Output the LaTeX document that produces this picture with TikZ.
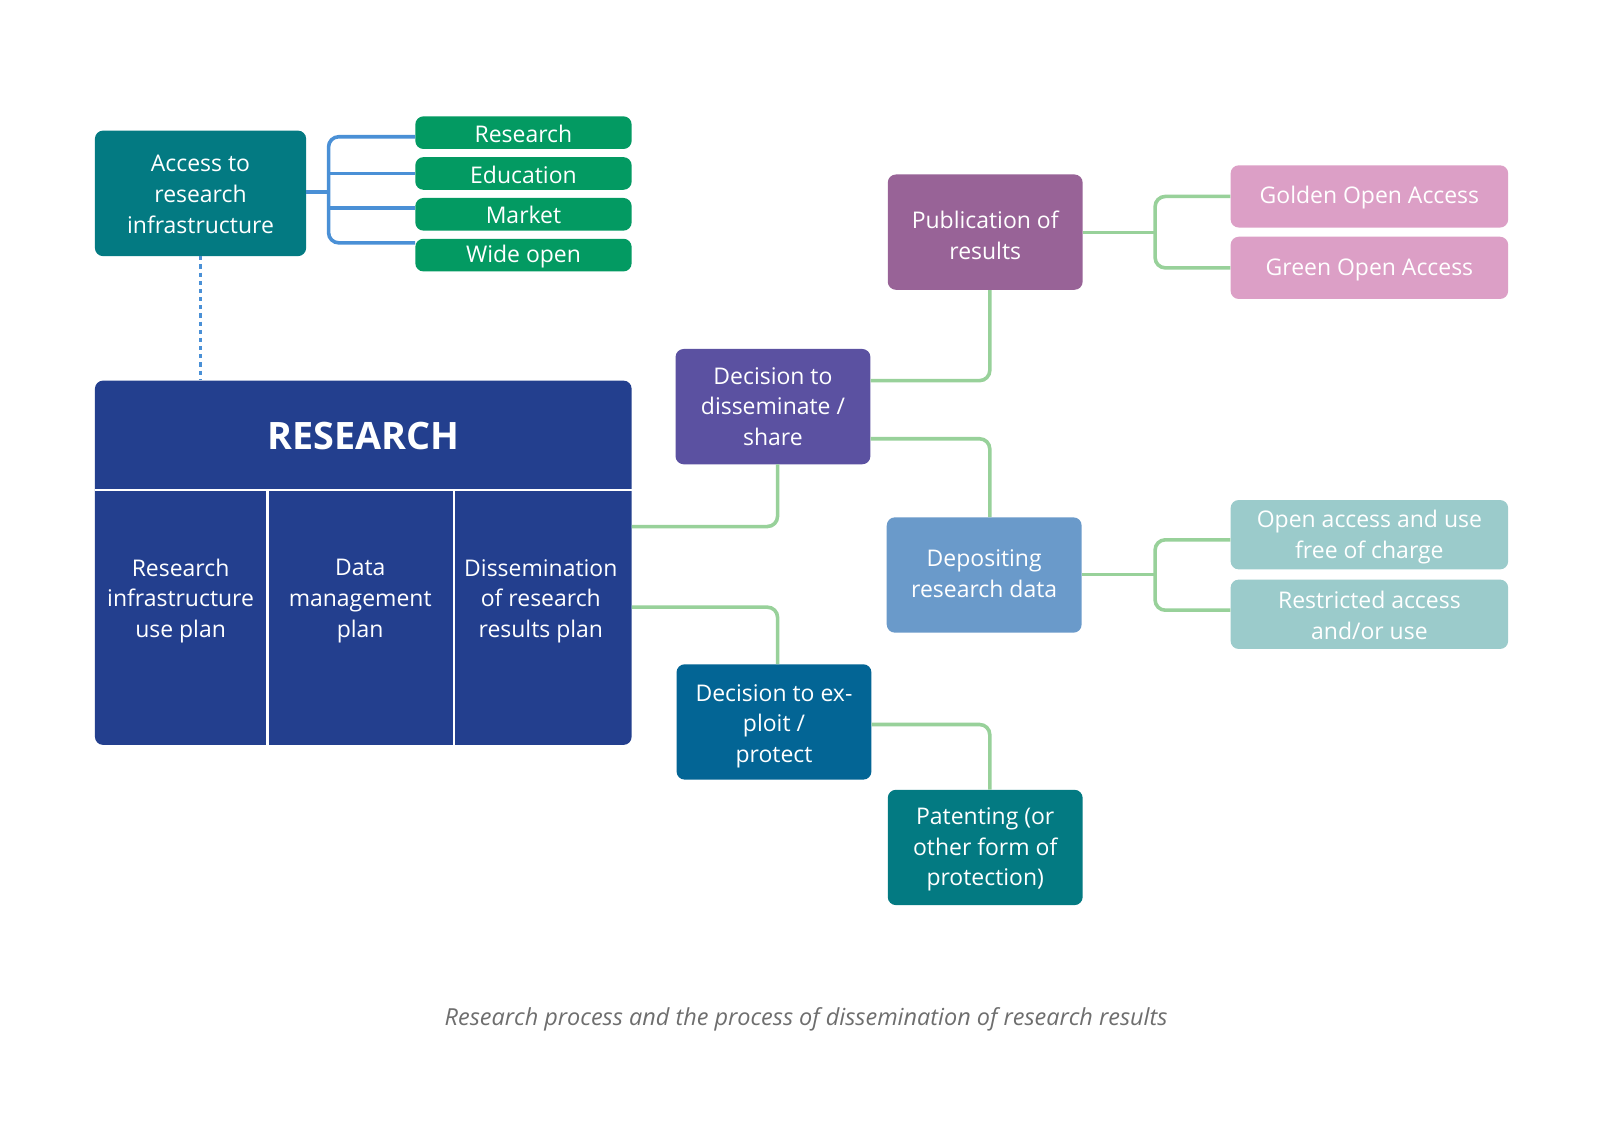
\documentclass[tikz,border=0pt]{standalone}
\usepackage{fontspec}
\setmainfont{Open Sans}
\usetikzlibrary{calc}
\definecolor{cteal}{HTML}{037A82}
\definecolor{cgreen}{HTML}{039A62}
\definecolor{cblueline}{HTML}{4A90D6}
\definecolor{cresearch}{HTML}{233F8E}
\definecolor{cdiss}{HTML}{5B51A1}
\definecolor{cpub}{HTML}{986397}
\definecolor{cdep}{HTML}{6A9ACA}
\definecolor{cpink}{HTML}{DC9FC6}
\definecolor{clteal}{HTML}{9BCBCB}
\definecolor{cexpl}{HTML}{036595}
\definecolor{cgline}{HTML}{98D19A}
\definecolor{ccap}{HTML}{6E6E6E}
\tikzset{
  box/.style={rectangle, rounded corners=8pt, inner sep=0pt},
  txt/.style={text=white, align=center, inner sep=0pt, font=\fontsize{22.5}{30}\selectfont},
  gline/.style={draw=cgline, line width=3.5pt, rounded corners=10pt},
  bline/.style={draw=cblueline, line width=3.5pt, rounded corners=10pt},
  divline/.style={draw=white, line width=2.5pt},
}
\begin{document}
\begin{tikzpicture}[x=1pt,y=-1pt]
\useasboundingbox[fill=white] (0,0) rectangle (1568,1108);

% Access + green boxes
\node[box, fill=cteal, minimum width=207pt, minimum height=123pt] (access) at (196.5,189.5) {};
\node[txt] (accessT) at ([yshift=-1pt]access.center) {Access to\\research\\infrastructure};
\node[box, fill=cgreen, minimum width=212pt, minimum height=32pt] (g1) at (513,130) {};
\node[box, fill=cgreen, minimum width=212pt, minimum height=32pt] (g2) at (513,170) {};
\node[box, fill=cgreen, minimum width=212pt, minimum height=32pt] (g3) at (513,210) {};
\node[box, fill=cgreen, minimum width=212pt, minimum height=32pt] (g4) at (513,250) {};
\node[txt] (g1T) at ([yshift=-1.5pt]g1.center) {Research};
\node[txt] (g2T) at ([yshift=-1pt]g2.center) {Education};
\node[txt] (g3T) at ([yshift=-1pt]g3.center) {Market};
\node[txt] (g4T) at ([yshift=-1pt]g4.center) {Wide open};

\coordinate (ab) at (322,188);
\draw[bline] (access.east |- ab) -- (ab);
\draw[bline] (g1.west |- 0,134) -| (322,238) -- (g4.west |- 0,238);
\draw[bline] (322,170) -- (g2.west |- 0,170);
\draw[bline] (322,204) -- (g3.west |- 0,204);

% Research box
\node[box, fill=cresearch, minimum width=526pt, minimum height=357pt] (research) at (356,551.5) {};
\draw[draw=cblueline, line width=2.2pt, dash pattern=on 4pt off 4pt] (access.south) -- (research.north -| access.south);
\draw[divline] (research.west |- 0,480) -- (research.east |- 0,480);
\draw[divline] (262,480) -- (research.south -| 262,0);
\draw[divline] (445,480) -- (research.south -| 445,0);
\node[text=white, font=\fontsize{37}{40}\selectfont\bfseries] (rtitle) at (356,427) {RESEARCH};
\node[txt] (c1) at (177,589) {Research\\infrastructure\\use plan};
\node[txt] (c2) at (353,589) {Data\\management\\plan};
\node[txt] (c3) at (530,589) {Dissemination\\of research\\results plan};

% Decision boxes
\node[box, fill=cdiss, minimum width=191pt, minimum height=113pt] (diss) at (757.5,398.5) {};
\node[txt] (dissT) at (diss.center) {Decision to\\disseminate /\\share};
\node[box, fill=cexpl, minimum width=191pt, minimum height=113pt] (expl) at (758.5,707.5) {};
\node[txt] (explT) at ([yshift=-4pt]expl.center) {Decision to ex-\\ploit /\\protect};
\node[box, fill=cpub, minimum width=191pt, minimum height=113pt] (pub) at (965.5,227.5) {};
\node[txt] (pubT) at ([yshift=-3pt]pub.center) {Publication of\\results};
\node[box, fill=cdep, minimum width=191pt, minimum height=113pt] (dep) at (964.5,563.5) {};
\node[txt] (depT) at ([yshift=1pt]dep.center) {Depositing\\research data};
\node[box, fill=cteal, minimum width=191pt, minimum height=113pt] (pat) at (965.5,830.5) {};
\node[txt] (patT) at ([yshift=-2pt]pat.center) {Patenting (or\\other form of\\protection)};

% Right boxes
\node[box, fill=cpink, minimum width=272pt, minimum height=61pt] (gold) at (1342,192.5) {};
\node[txt] (goldT) at ([yshift=-1.5pt]gold.center) {Golden Open Access};
\node[box, fill=cpink, minimum width=272pt, minimum height=61pt] (goa) at (1342,262.5) {};
\node[txt] (goaT) at ([yshift=-2pt]goa.center) {Green Open Access};
\node[box, fill=clteal, minimum width=272pt, minimum height=68pt] (oa) at (1342,524) {};
\node[txt] (oaT) at ([yshift=-2pt]oa.center) {Open access and use\\free of charge};
\node[box, fill=clteal, minimum width=272pt, minimum height=68pt] (ra) at (1342,602) {};
\node[txt] (raT) at ([yshift=-1pt]ra.center) {Restricted access\\and/or use};

% Green connectors
\draw[gline] (research.east |- 0,516) -| (diss.south -| 762,0);
\draw[gline] (research.east |- 0,595) -| (expl.north -| 762,0);
\draw[gline] (diss.east |- 0,373) -| (pub.south -| 970,0);
\draw[gline] (diss.east |- 0,430) -| (dep.north -| 970,0);
\draw[gline] (expl.east |- 0,710) -| (pat.north -| 970,0);

\draw[gline] (pub.east |- 0,228) -- (1132,228);
\draw[gline] (gold.west) -| (1132,262.5) -- (goa.west);
\draw[gline] (dep.east |- 0,563) -- (1132,563);
\draw[gline] (oa.west |- 0,529) -| (1132,598) -- (ra.west |- 0,598);

% Caption
\node[text=ccap, font=\fontsize{23}{26}\selectfont\itshape] (cap) at (790,999)
  {Research process and the process of dissemination of research results};
\end{tikzpicture}
\end{document}
